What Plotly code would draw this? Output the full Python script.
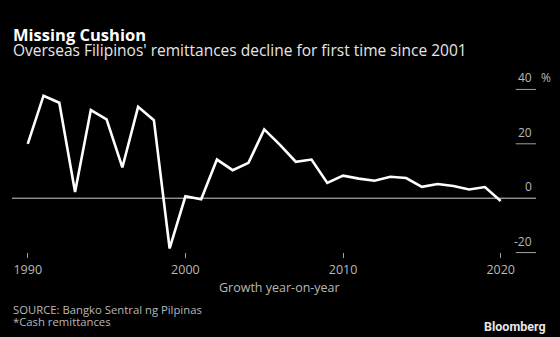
import plotly.graph_objects as go

years = list(range(1990, 2021))
growth = [20.0, 37.7, 35.1, 2.3, 32.4, 29.0, 11.3, 33.6, 28.7, -18.5,
          0.7, -0.4, 14.2, 10.3, 13.0, 25.3, 19.6, 13.4, 14.2, 5.6,
          8.3, 7.2, 6.4, 7.9, 7.4, 4.2, 5.2, 4.5, 3.2, 4.1, -1.0]
x_ticks = [1990, 2000, 2010, 2020]
y_ticks = [-20, 0, 20, 40]
y_tick_labels = ["-20", "0", "20", "40"]

title = "Missing Cushion"
subtitle = "Overseas Filipinos' remittances decline for first time since 2001"
x_title = "Growth year-on-year"
source = "SOURCE: Bangko Sentral ng Pilpinas"
note = "*Cash remittances"

FONT = "Open Sans"
GRAY = "#b8b8b8"

W, H = 560, 337
ML, MR, MT, MB = 12, 24, 84, 79
PW, PH = W - ML - MR, H - MT - MB


def px(x):
    return (x - ML) / PW


def py(y):
    return (H - MB - y) / PH


fig = go.Figure()
fig.add_trace(go.Scatter(x=years, y=growth, mode="lines",
                         line=dict(color="#ffffff", width=2.6),
                         hoverinfo="skip", showlegend=False))

shapes = []
annotations = []
for v, lab in zip(y_ticks, y_tick_labels):
    if v == 0:
        shapes.append(dict(type="line", xref="paper", yref="y", x0=0, x1=1,
                           y0=v, y1=v, line=dict(color="#d0d0d0", width=1),
                           layer="below"))
    else:
        shapes.append(dict(type="line", xref="paper", yref="y", x0=px(515.7), x1=1,
                           y0=v, y1=v, line=dict(color="#a0a0a0", width=1),
                           layer="below"))
    annotations.append(dict(text=lab, xref="paper", yref="y", x=px(534), y=v,
                            xanchor="right", yanchor="middle", yshift=11.5,
                            showarrow=False, font=dict(family=FONT, size=12, color=GRAY)))
annotations.append(dict(text="%", xref="paper", yref="y", x=px(539), y=y_ticks[-1],
                        xanchor="left", yanchor="middle", yshift=11.5,
                        showarrow=False, font=dict(family=FONT, size=12, color=GRAY)))

annotations += [
    dict(text="<b>" + title + "</b>", xref="paper", yref="paper", x=px(11), y=py(34.5),
         xanchor="left", yanchor="middle", showarrow=False,
         font=dict(family=FONT, size=16.5, color="#ffffff")),
    dict(text=subtitle, xref="paper", yref="paper", x=px(11), y=py(49.5),
         xanchor="left", yanchor="middle", showarrow=False,
         font=dict(family=FONT, size=15.5, color="#e6e6e6")),
    dict(text=x_title, xref="paper", yref="paper", x=px(279), y=py(287.5),
         xanchor="center", yanchor="middle", showarrow=False,
         font=dict(family=FONT, size=12.5, color=GRAY)),
    dict(text=source, xref="paper", yref="paper", x=px(11), y=py(309),
         xanchor="left", yanchor="middle", showarrow=False,
         font=dict(family=FONT, size=11.3, color=GRAY)),
    dict(text=note, xref="paper", yref="paper", x=px(11), y=py(321.5),
         xanchor="left", yanchor="middle", showarrow=False,
         font=dict(family=FONT, size=11.3, color=GRAY)),
    dict(text="<b>Bloomberg</b>", xref="paper", yref="paper", x=px(548), y=py(326),
         xanchor="right", yanchor="middle", showarrow=False,
         font=dict(family="Roboto", size=12.5, color="#e6e6e6")),
]

fig.update_layout(
    width=W, height=H,
    margin=dict(l=ML, r=MR, t=MT, b=MB, pad=0),
    paper_bgcolor="#000000", plot_bgcolor="#000000",
    shapes=shapes, annotations=annotations,
    xaxis=dict(range=[1989.0, 2022.24], tickvals=x_ticks,
               ticktext=[str(t) for t in x_ticks],
               showgrid=False, zeroline=False, showline=False,
               ticks="inside", ticklen=5, tickwidth=1, tickcolor="#a0a0a0",
               tickfont=dict(family=FONT, size=12.5, color=GRAY),
               ticklabelstandoff=2,
               fixedrange=True),
    yaxis=dict(range=[-22, 42], showgrid=False, zeroline=False, showline=False,
               showticklabels=False, ticks="", fixedrange=True),
    showlegend=False,
)

fig.write_html("out.html", config={"displayModeBar": False})
